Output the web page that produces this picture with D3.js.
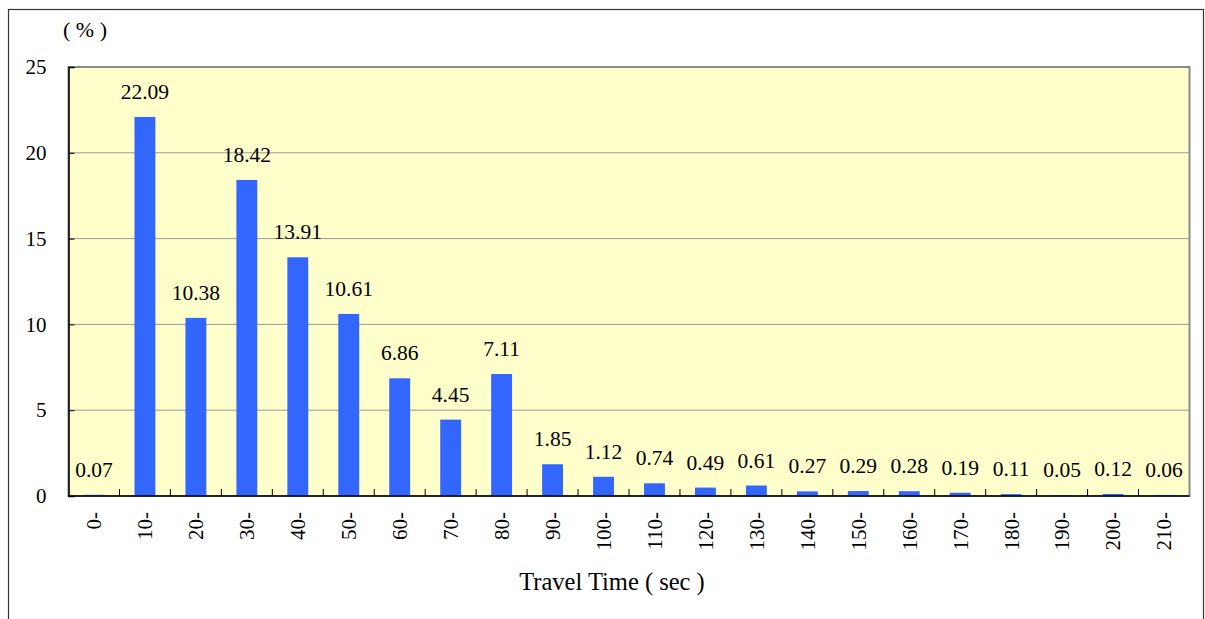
<!DOCTYPE html>
<html>
<head>
<meta charset="utf-8">
<script src="https://cdn.jsdelivr.net/npm/d3@7"></script>
<style>
  html, body { margin: 0; padding: 0; background: #ffffff; }
  svg { display: block; }
  text { font-family: "Liberation Serif", "Times New Roman", serif; fill: #000; }
</style>
</head>
<body>
<svg id="chart" width="1205" height="619"></svg>
<script>
// Travel time bins (seconds) and share of trips in each bin (%)
const categories = ["0-", "10-", "20-", "30-", "40-", "50-", "60-", "70-", "80-", "90-", "100-",
  "110-", "120-", "130-", "140-", "150-", "160-", "170-", "180-", "190-", "200-", "210-"];
const shares = [0.07, 22.09, 10.38, 18.42, 13.91, 10.61, 6.86, 4.45, 7.11, 1.85, 1.12,
  0.74, 0.49, 0.61, 0.27, 0.29, 0.28, 0.19, 0.11, 0.05, 0.12, 0.06];
const yTicks = [0, 5, 10, 15, 20, 25];

const svg = d3.select("#chart");
const plot = { left: 68.5, right: 1189.5, top: 67, bottom: 496 };

// outer frame
svg.append("rect")
  .attr("x", 8.5).attr("y", 9.5)
  .attr("width", 1195).attr("height", 700)
  .attr("fill", "none").attr("stroke", "#333").attr("stroke-width", 1.2);

const x = d3.scaleBand()
  .domain(categories)
  .range([plot.left, plot.right])
  .paddingInner(0.59)
  .paddingOuter(0.295);

const y = d3.scaleLinear().domain([0, 25]).range([plot.bottom, plot.top]);

// plot background
svg.append("rect")
  .attr("x", plot.left).attr("y", plot.top)
  .attr("width", plot.right - plot.left).attr("height", plot.bottom - plot.top)
  .attr("fill", "#FFFFCC").attr("stroke", "#8a8a8a").attr("stroke-width", 2);

// horizontal grid lines
svg.append("g")
  .selectAll("line")
  .data(yTicks.filter(d => d > 0 && d < 25))
  .join("line")
  .attr("x1", plot.left).attr("x2", plot.right)
  .attr("y1", d => y(d)).attr("y2", d => y(d))
  .attr("stroke", "#9a9a9a").attr("stroke-width", 1);

// bars
svg.append("g")
  .selectAll("rect")
  .data(shares)
  .join("rect")
  .attr("x", (d, i) => x(categories[i]))
  .attr("width", x.bandwidth())
  .attr("y", d => y(d))
  .attr("height", d => y(0) - y(d))
  .attr("fill", "#3366FF");

// value labels
svg.append("g")
  .selectAll("text")
  .data(shares)
  .join("text")
  .attr("x", (d, i) => x(categories[i]) + x.bandwidth() / 2)
  .attr("y", d => y(d) - 18)
  .attr("text-anchor", "middle")
  .attr("font-size", 21.5)
  .text(d => d.toFixed(2));

// y axis
const yAxis = svg.append("g")
  .attr("transform", `translate(${plot.left},0)`)
  .call(d3.axisLeft(y).tickValues(yTicks).tickSize(-6).tickPadding(22));
yAxis.select(".domain").attr("stroke", "#000").attr("stroke-width", 1.5);
yAxis.selectAll(".tick line").attr("stroke", "#000");
yAxis.selectAll(".tick text")
  .attr("font-size", 21)
  .attr("font-family", "Liberation Serif, Times New Roman, serif")
  .attr("fill", "#000");

// x axis: ticks on bin boundaries, pointing into the plot
const xAxisG = svg.append("g").attr("transform", `translate(0,${plot.bottom})`);
xAxisG.append("line")
  .attr("x1", plot.left).attr("x2", plot.right)
  .attr("stroke", "#000").attr("stroke-width", 1.5);
xAxisG.selectAll("line.tick")
  .data(categories.slice(1))
  .join("line")
  .attr("class", "tick")
  .attr("x1", d => x(d) - x.step() * x.paddingInner() / 2)
  .attr("x2", d => x(d) - x.step() * x.paddingInner() / 2)
  .attr("y1", 0).attr("y2", -7)
  .attr("stroke", "#000");
xAxisG.selectAll("text")
  .data(categories)
  .join("text")
  .attr("transform", d => `translate(${x(d) + x.bandwidth() / 2},16) rotate(-90)`)
  .attr("text-anchor", "end")
  .attr("dy", "0.35em")
  .attr("font-size", 21)
  .text(d => d);

// axis titles
svg.append("text")
  .attr("x", 85).attr("y", 37)
  .attr("text-anchor", "middle")
  .attr("font-size", 22)
  .text("( % )");

svg.append("text")
  .attr("x", 612).attr("y", 590)
  .attr("text-anchor", "middle")
  .attr("font-size", 24.5)
  .text("Travel Time ( sec )");
</script>
</body>
</html>
